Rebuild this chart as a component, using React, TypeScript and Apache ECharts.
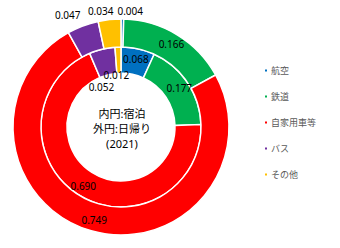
import React, { useEffect, useRef } from "react";
import * as echarts from "echarts";

const categories = ["航空", "鉄道", "自家用車等", "バス", "その他"];
const overnight = [0.068, 0.177, 0.69, 0.052, 0.012]; // 内円:宿泊
const dayTrip = [0.004, 0.166, 0.749, 0.047, 0.034]; // 外円:日帰り
const colors = ["#0070C0", "#00B050", "#FF0000", "#7030A0", "#FFC000"];
const centerLines = ["内円:宿泊", "外円:日帰り", "(2021)"];

// label nudges for the thin slices: [seriesIndex][dataIndex] -> [dx, dy]
const labelNudges: Record<number, Record<number, [number, number]>> = {
  0: { 3: [-3, 28], 4: [-2, 18] },
  1: { 0: [8, -19], 3: [-19, -21], 4: [-10, -20] },
};

export default function App() {
  const ref = useRef<HTMLDivElement>(null);
  useEffect(() => {
    document.body.style.margin = "0";
    const chart = echarts.init(ref.current!, undefined, { renderer: "svg" });
    const font = "'Noto Sans', 'Noto Sans CJK JP', sans-serif";
    const mk = (vals: number[]) =>
      vals.map((v, i) => ({ name: categories[i], value: v, itemStyle: { color: colors[i] } }));
    const label = {
      show: true,
      position: "inside",
      formatter: (p: any) => p.value.toFixed(3),
      color: "#000",
      fontSize: 10,
      fontFamily: font,
    };
    const layout = (p: any) => {
      const n = labelNudges[p.seriesIndex]?.[p.dataIndex];
      return n ? { dx: n[0], dy: n[1] } : {};
    };
    chart.setOption({
      animation: false,
      color: colors,
      legend: {
        orient: "vertical",
        left: 258,
        top: 61,
        itemWidth: 4,
        itemHeight: 4,
        itemGap: 17,
        icon: "rect",
        data: categories,
        textStyle: { fontSize: 9, color: "#595959", fontFamily: font, padding: [0, 0, 0, -2] },
      },
      graphic: [
        {
          type: "text",
          x: 122,
          y: 106,
          style: {
            text: centerLines.join("\n"),
            align: "center",
            verticalAlign: "top",
            fill: "#000",
            fontSize: 11,
            lineHeight: 15,
            fontFamily: font,
          },
        },
      ],
      series: [
        {
          type: "pie",
          name: "宿泊",
          center: [121, 127],
          radius: [54, 80],
          startAngle: 90,
          clockwise: true,
          itemStyle: { borderColor: "#fff", borderWidth: 1.5 },
          label,
          labelLine: { show: false },
          labelLayout: layout,
          emphasis: { disabled: true },
          data: mk(overnight),
        },
        {
          type: "pie",
          name: "日帰り",
          center: [121, 127],
          radius: [80, 108],
          startAngle: 90,
          clockwise: true,
          itemStyle: { borderColor: "#fff", borderWidth: 1.5 },
          label,
          labelLine: { show: false },
          labelLayout: layout,
          emphasis: { disabled: true },
          data: mk(dayTrip),
        },
      ],
    });
    return () => chart.dispose();
  }, []);
  return <div ref={ref} style={{ width: 340, height: 248 }} />;
}
